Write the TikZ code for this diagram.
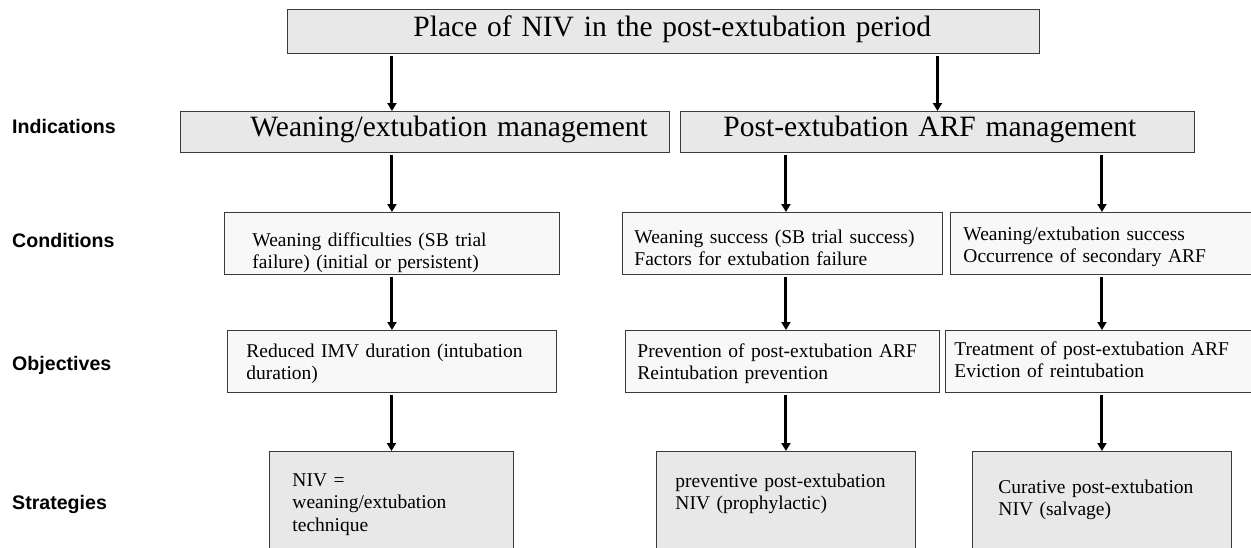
\documentclass[tikz,border=0pt]{standalone}
\usepackage{fontspec}
\setmainfont{Liberation Serif}
\newfontfamily\labfont{Liberation Sans}
\usetikzlibrary{arrows.meta}
\newcommand\mybx[3]{\rule{0pt}{#1pt}#3\rule[-#2pt]{0pt}{#2pt}}
\newcommand\pd[1]{\hspace*{#1pt}}
\definecolor{boxgray}{HTML}{E8E8E8}
\definecolor{boxlight}{HTML}{F8F8F8}
\definecolor{edge}{HTML}{3A3A3A}
\begin{document}
\begin{tikzpicture}[x=1pt,y=-1pt,
  basebox/.style={draw=edge,line width=0.9pt,anchor=north west,inner sep=0pt,align=left},
  graybox/.style={basebox,fill=boxgray},
  lightbox/.style={basebox,fill=boxlight},
  big/.style={font=\fontsize{29.5}{34}\selectfont},
  small/.style={font=\fontsize{19.5}{22.5}\selectfont},
  lab/.style={font=\labfont\bfseries\fontsize{19.6}{22}\selectfont,anchor=base west,inner sep=0pt},
  arr/.style={line width=3pt,shorten <=2pt,-{Triangle[width=9pt,length=8pt]}}]
\useasboundingbox (0,0) rectangle (1251,547);
\clip (0,0) rectangle (1251,547);
\fill[white] (0,0) rectangle (1251,547);

% row labels
\node[lab] (lind) at (12,133) {Indications};
\node[lab] (lcon) at (12,247) {Conditions};
\node[lab] (lobj) at (12,370) {Objectives};
\node[lab] (lstr) at (12,509) {Strategies};

% boxes
\node[graybox,big,text width=752pt] (top) at (287,9) {\mybx{27}{17}{\pd{126}Place of NIV in the post-extubation period}};
\node[graybox,big,text width=489pt] (ind1) at (180,111) {\mybx{25}{16}{\pd{70}Weaning/extubation management}};
\node[graybox,big,text width=514pt] (ind2) at (680,111) {\mybx{25}{16}{\pd{43}Post-extubation ARF management}};

\node[lightbox,small,text width=335pt] (c1) at (224,212) {\mybx{34}{5.5}{\pd{28}Weaning difficulties (SB trial\\\pd{28}failure) (initial or persistent)}};
\node[lightbox,small,text width=320pt] (c2) at (622,212) {\mybx{31}{8.5}{\pd{12}Weaning success (SB trial success)\\\pd{12}Factors for extubation failure}};
\node[lightbox,small,text width=310pt] (c3) at (950,212) {\mybx{28}{11.5}{\pd{13}Weaning/extubation success\\\pd{13}Occurrence of secondary ARF}};

\node[lightbox,small,text width=329pt] (o1) at (227,330) {\mybx{27}{12.5}{\pd{19}Reduced IMV duration (intubation\\\pd{19}duration)}};
\node[lightbox,small,text width=314pt] (o2) at (625,330) {\mybx{27}{12.5}{\pd{12}Prevention of post-extubation ARF\\\pd{12}Reintubation prevention}};
\node[lightbox,small,text width=315pt] (o3) at (945,330) {\mybx{25}{14.5}{\pd{9}Treatment of post-extubation ARF\\\pd{9}Eviction of reintubation}};

\node[graybox,small,text width=244pt] (s1) at (269,451) {\mybx{35}{39}{\pd{23}NIV =\\\pd{23}weaning/extubation\\\pd{23}technique}};
\node[graybox,small,text width=259pt] (s2) at (656,451) {\mybx{36}{60.5}{\pd{19}preventive post-extubation\\\pd{19}NIV (prophylactic)}};
\node[graybox,small,text width=259pt] (s3) at (972,451) {\mybx{42}{54.5}{\pd{26}Curative post-extubation\\\pd{26}NIV (salvage)}};

% connectors
\draw[arr] (top.south -| c1.north) -- (ind1.north -| c1.north);
\draw[arr] (top.south -| ind2.north) -- (ind2.north);
\draw[arr] (ind1.south -| c1.north) -- (c1.north);
\draw[arr] (ind2.south -| s2.north) -- (c2.north -| s2.north);
\draw[arr] (ind2.south -| s3.north) -- (c3.north -| s3.north);
\draw[arr] (c1.south) -- (o1.north -| c1.south);
\draw[arr] (c2.south -| s2.north) -- (o2.north -| s2.north);
\draw[arr] (c3.south -| s3.north) -- (o3.north -| s3.north);
\draw[arr] (o1.south -| s1.north) -- (s1.north);
\draw[arr] (o2.south -| s2.north) -- (s2.north);
\draw[arr] (o3.south -| s3.north) -- (s3.north);
\end{tikzpicture}
\end{document}
